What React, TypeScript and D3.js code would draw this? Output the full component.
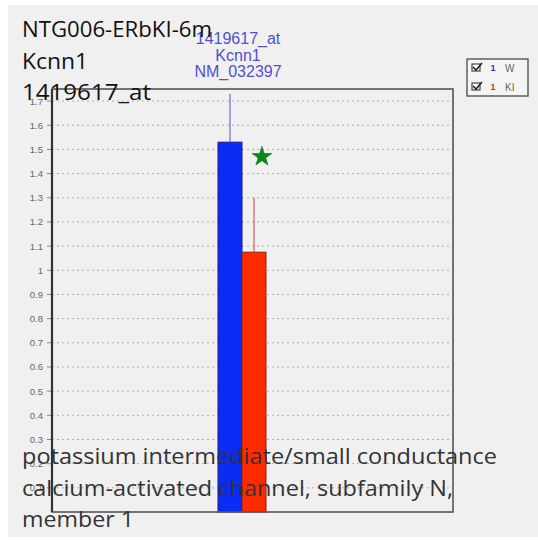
import React, { useEffect, useRef } from 'react';
import * as d3 from 'd3';

// values
const groups = ['W', 'KI'];
const means = [1.53, 1.075];
const errTops = [1.73, 1.3];
const barColors = ['#0a2cf5', '#ff2a00'];
const barEdges = ['#1a1a80', '#902010'];
const errColors = ['#6a6ad8', '#e05a50'];
const markerColors = ['#3030d0', '#e03030'];
const yTicks = [0.1, 0.2, 0.3, 0.4, 0.5, 0.6, 0.7, 0.8, 0.9, 1, 1.1, 1.2, 1.3, 1.4, 1.5, 1.6, 1.7];
const titleLines = ['NTG006-ERbKI-6m', 'Kcnn1', '1419617_at'];
const probeLines = ['1419617_at', 'Kcnn1', 'NM_032397'];
const descLines = [
  'potassium intermediate/small conductance',
  'calcium-activated channel, subfamily N,',
  'member 1',
];
const starValue = 1.47;

// measured text widths in the reference (layout only)
const titleWidths = [190, 66, 129];
const descWidths = [475, 431, 112];

const App: React.FC = () => {
  const ref = useRef<SVGSVGElement>(null);

  useEffect(() => {
    if (!ref.current) return;
    const svg = d3.select(ref.current);
    svg.selectAll('*').remove();

    const width = 538;
    const height = 540;
    const plot = { left: 52, right: 453, top: 89, bottom: 512 };

    svg.attr('width', width).attr('height', height);

    svg.append('rect').attr('width', width).attr('height', height).attr('fill', '#fff');
    svg.append('rect')
      .attr('x', 8).attr('y', 5)
      .attr('width', width - 8).attr('height', height - 8)
      .attr('fill', '#f0f0f0');

    const y = d3.scaleLinear().domain([0, 1.75]).range([plot.bottom, plot.top]);
    const x = d3.scaleBand<string>().domain(groups).range([218, 266]).paddingInner(0);

    // dotted grid
    svg.append('g')
      .selectAll('line')
      .data(yTicks)
      .enter()
      .append('line')
      .attr('x1', plot.left)
      .attr('x2', plot.right)
      .attr('y1', d => y(d))
      .attr('y2', d => y(d))
      .attr('stroke', '#b0b0b0')
      .attr('stroke-width', 1)
      .attr('stroke-dasharray', '2,3');

    // y axis ticks
    const axis = svg.append('g');
    axis.selectAll('line')
      .data(yTicks)
      .enter()
      .append('line')
      .attr('x1', plot.left - 5)
      .attr('x2', plot.left)
      .attr('y1', d => y(d))
      .attr('y2', d => y(d))
      .attr('stroke', '#888');
    axis.selectAll('text')
      .data(yTicks)
      .enter()
      .append('text')
      .attr('x', plot.left - 9)
      .attr('y', d => y(d) + 3.5)
      .attr('text-anchor', 'end')
      .style('font-family', '"Liberation Sans", Arial, sans-serif')
      .style('font-size', '9.5px')
      .style('fill', '#666')
      .text(d => String(d));

    // bars
    svg.append('g')
      .selectAll('rect')
      .data(means)
      .enter()
      .append('rect')
      .attr('x', (_, i) => x(groups[i])!)
      .attr('y', d => y(d))
      .attr('width', x.bandwidth())
      .attr('height', d => y(0) - y(d))
      .attr('fill', (_, i) => barColors[i])
      .attr('stroke', (_, i) => barEdges[i])
      .attr('stroke-width', 1);

    // error bars
    svg.append('g')
      .selectAll('line')
      .data(errTops)
      .enter()
      .append('line')
      .attr('x1', (_, i) => x(groups[i])! + x.bandwidth() / 2)
      .attr('x2', (_, i) => x(groups[i])! + x.bandwidth() / 2)
      .attr('y1', (_, i) => y(means[i]))
      .attr('y2', d => y(d))
      .attr('stroke', (_, i) => errColors[i])
      .attr('stroke-width', 1.2);

    // significance star
    svg.append('path')
      .attr('d', d3.symbol().type(d3.symbolStar).size(120)())
      .attr('transform', `translate(${x('KI')! + x.bandwidth() * 0.83},${y(starValue)})`)
      .attr('fill', '#0a8a1a')
      .attr('stroke', '#067010')
      .attr('stroke-width', 0.6);

    // frame
    svg.append('rect')
      .attr('x', plot.left)
      .attr('y', plot.top)
      .attr('width', plot.right - plot.left)
      .attr('height', plot.bottom - plot.top)
      .attr('fill', 'none')
      .attr('stroke', '#555')
      .attr('stroke-width', 1.6);
    svg.append('line')
      .attr('x1', plot.left).attr('x2', plot.left)
      .attr('y1', plot.top).attr('y2', plot.bottom)
      .attr('stroke', '#333')
      .attr('stroke-width', 2.2);

    // legend
    const lg = svg.append('g');
    lg.append('rect')
      .attr('x', 467).attr('y', 59)
      .attr('width', 61).attr('height', 37)
      .attr('fill', '#f4f4f4')
      .attr('stroke', '#555')
      .attr('stroke-width', 1.4);
    groups.forEach((g, i) => {
      const cy = 68 + i * 19;
      lg.append('rect')
        .attr('x', 472).attr('y', cy - 4)
        .attr('width', 8).attr('height', 7)
        .attr('fill', '#fff')
        .attr('stroke', '#444')
        .attr('stroke-width', 1.2);
      lg.append('path')
        .attr('d', `M473,${cy - 1} L476,${cy + 2} L482,${cy - 5}`)
        .attr('fill', 'none')
        .attr('stroke', '#222')
        .attr('stroke-width', 1.6);
      lg.append('text')
        .attr('x', 493).attr('y', cy + 3)
        .attr('text-anchor', 'middle')
        .style('font-family', '"Liberation Sans", Arial, sans-serif')
        .style('font-size', '9px')
        .style('font-weight', 'bold')
        .style('fill', markerColors[i])
        .text('1');
      lg.append('text')
        .attr('x', 505).attr('y', cy + 4)
        .style('font-family', '"Liberation Sans", Arial, sans-serif')
        .style('font-size', '10px')
        .style('fill', '#666')
        .text(g);
    });

    // probe labels above bars
    svg.append('g')
      .selectAll('text')
      .data(probeLines)
      .enter()
      .append('text')
      .attr('x', 238)
      .attr('y', (_, i) => 44 + i * 16.5)
      .attr('text-anchor', 'middle')
      .style('font-family', '"Liberation Sans", Arial, sans-serif')
      .style('font-size', '16px')
      .style('fill', '#5050d0')
      .text(d => d);

    // title
    svg.append('g')
      .selectAll('text')
      .data(titleLines)
      .enter()
      .append('text')
      .attr('x', 22)
      .attr('y', (_, i) => 37 + i * 31.5)
      .attr('textLength', (_, i) => titleWidths[i])
      .attr('lengthAdjust', 'spacingAndGlyphs')
      .style('font-family', '"Open Sans", sans-serif')
      .style('font-size', '21px')
      .style('fill', '#111')
      .text(d => d);

    // description
    svg.append('g')
      .selectAll('text')
      .data(descLines)
      .enter()
      .append('text')
      .attr('x', 22)
      .attr('y', (_, i) => 464 + i * 31.5)
      .attr('textLength', (_, i) => descWidths[i])
      .attr('lengthAdjust', 'spacingAndGlyphs')
      .style('font-family', '"Open Sans", sans-serif')
      .style('font-size', '21px')
      .style('fill', '#333')
      .text(d => d);
  }, []);

  return (
    <div style={{ position: 'absolute', left: 0, top: 0 }}>
      <svg ref={ref}></svg>
    </div>
  );
};

export default App;
